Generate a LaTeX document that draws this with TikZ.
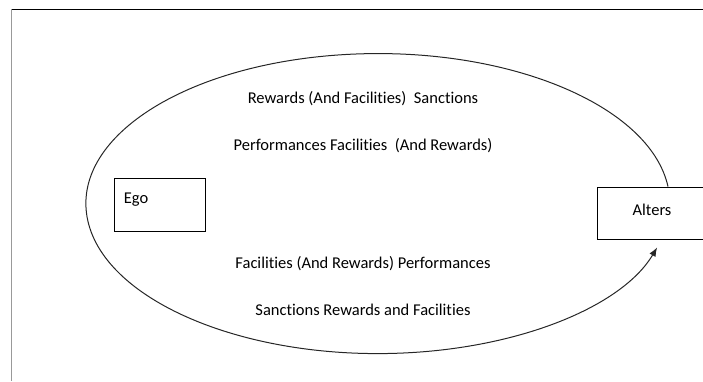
\documentclass[tikz,border=0pt]{standalone}
\usepackage{fontspec}
\setmainfont{Carlito}[Ligatures=NoCommon]
\usepackage{tikz}
\usetikzlibrary{positioning,arrows.meta}

\begin{document}
\begin{tikzpicture}[x=1pt,y=1pt,
    box/.style={draw,rectangle,line width=0.8pt,inner sep=0pt},
    flow/.style={font=\fontsize{16.5}{19}\selectfont}]
\useasboundingbox (0,0) rectangle (703,381);

% frame
\draw[line width=0.9pt] (11,371.5) -- (703,371.5);
\draw[gray!80,line width=1pt] (11.5,371.5) -- (11.5,0);

\node[box,minimum width=91pt,minimum height=53pt] (Ego) at (159.5,176.5) {};
\node[flow,right=10pt of Ego.west,yshift=5pt,inner sep=0pt] (egotext) {Ego};
\node[box,minimum width=108pt,minimum height=52pt] (Alters) at (651,168) {};
\node[flow,inner sep=0pt] (alterstext) at ([xshift=1pt,yshift=3pt]Alters.center) {Alters};

\node[flow] (r1) at (363,282) {Rewards (And Facilities)\ \ Sanctions};
\node[flow] (r2) at (363,235) {Performances Facilities\ \ (And Rewards)};
\node[flow] (r3) at (363,117) {Facilities (And Rewards) Performances};
\node[flow] (r4) at (363,71) {Sanctions Rewards and Facilities};

\coordinate (start) at ([xshift=17pt]Alters.north);
\draw[-{Latex[length=9pt,width=7pt]},line width=1pt,black!85] (start) arc[start angle=6.5,end angle=343,x radius=292pt,y radius=150pt];
\end{tikzpicture}
\end{document}
